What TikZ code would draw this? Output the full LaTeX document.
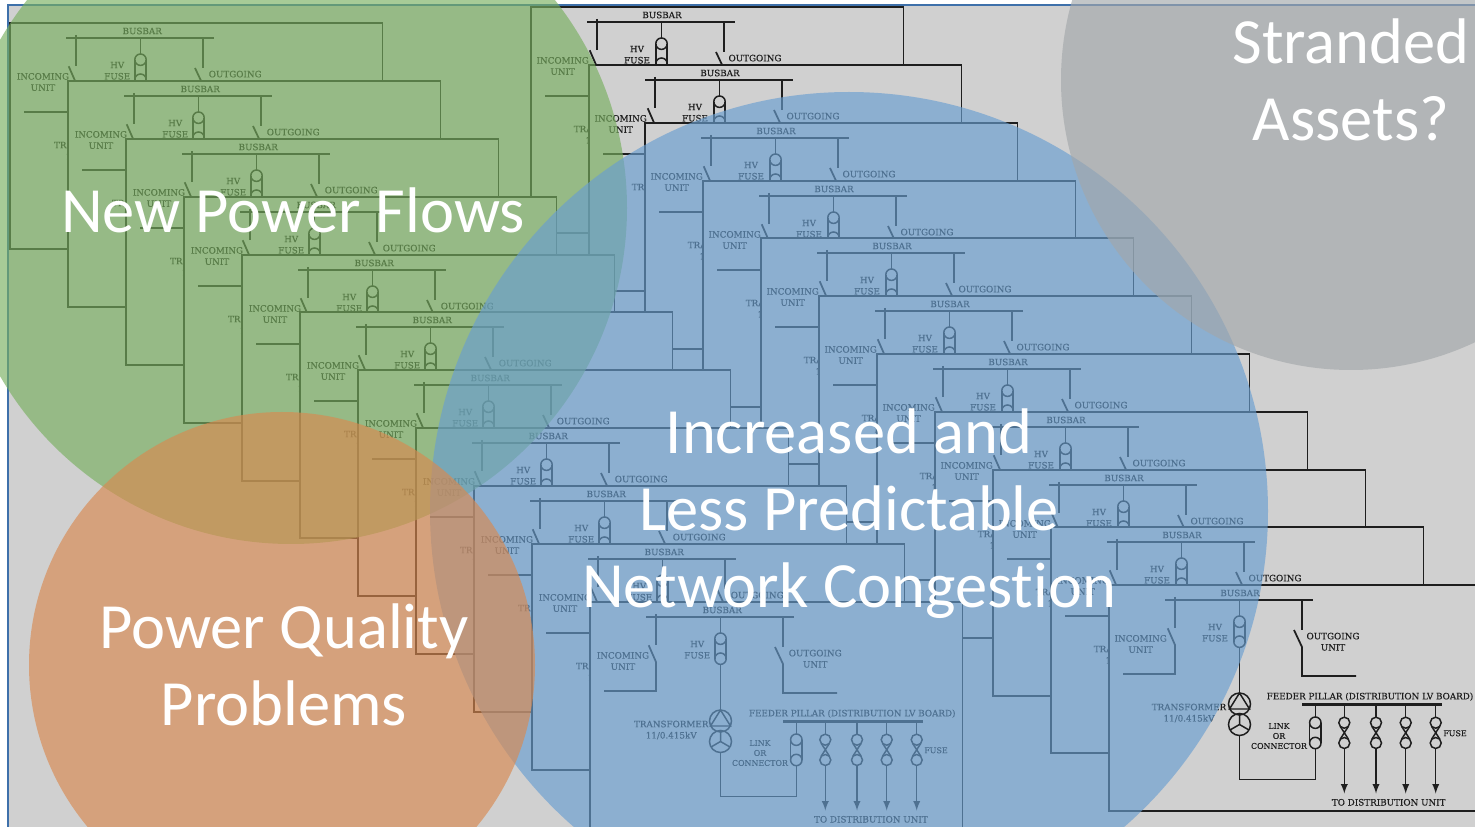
\documentclass[tikz,border=0pt]{standalone}
\usepackage{fontspec}
\setmainfont{Carlito}[Ligatures=CommonOff]
\newfontfamily\lblfont{DejaVu Serif}[FakeBold=0.35]
\definecolor{sheetgrey}{RGB}{208,208,208}
\definecolor{framecol}{RGB}{62,112,170}
\definecolor{inkcol}{RGB}{30,30,30}
\definecolor{greenblob}{RGB}{120,175,95}
\definecolor{blueblob}{RGB}{105,158,208}
\definecolor{orangeblob}{RGB}{217,137,80}
\definecolor{greyblob}{RGB}{162,167,170}
\tikzset{
    ink/.style={draw=inkcol, line width=1pt},
    thinink/.style={draw=inkcol, line width=.85pt},
    bar/.style={draw=inkcol, line width=1.6pt},
    sheetbox/.style={draw=inkcol, line width=1pt, fill=sheetgrey},
    lbl/.style={inner sep=0pt, text=inkcol, align=center, font=\lblfont\fontsize{5}{6.4}\selectfont},
    lblsmall/.style={inner sep=0pt, text=inkcol, align=center, font=\lblfont\fontsize{4.5}{5.7}\selectfont},
    blob/.style={draw=none, fill opacity=.65},
    bigtext/.style={inner sep=0pt, text=white, align=center, font=\fontsize{36.7}{43.8}\selectfont},
}
\newcommand{\fuseonly}[1]{
    \draw[thinink] (#1,119.5) -- (#1,132);
    \draw[thinink] (#1,137.7) circle (5.5);
    \draw[thinink] (#1,158) circle (5.5);
    \draw[thinink] (#1-4,141.5) -- (#1+4,154) (#1+4,141.5) -- (#1-4,154);
    \draw[thinink, -latex] (#1,163.5) -- (#1,208.5);
}
\newcommand{\sheet}[3]{
    \begin{scope}[shift={(#2,#3)}]
    \draw[sheetbox] (0,0) rectangle (372.5,226);
    \draw[bar] (56,15) -- (204,15);
    \draw[ink] (66,12) -- (66,43);
    \draw[ink] (58.7,43.3) -- (66,60) -- (66,89) -- (14,89);
    \draw[ink] (193,15) -- (193,45);
    \draw[ink] (185,45) -- (193,62) -- (193,91) -- (247,91);
    \draw[thinink] (130.5,15) -- (130.5,31);
    \draw[thinink] (130.5,36.7) circle (5.7);
    \draw[thinink] (130.5,56.7) circle (5.7);
    \draw[thinink] (124.8,36.7) -- (124.8,56.7) (136.2,36.7) -- (136.2,56.7);
    \draw[thinink] (130.5,62.4) -- (130.5,108);
    \draw[thinink] (130.5,119) circle (11);
    \draw[thinink] (130.5,139.5) circle (11);
    \draw[thinink] (130.5,108) -- (120.5,124) -- (140.5,124) -- cycle;
    \draw[thinink] (130.5,128.5) -- (130.5,139.5) -- (121,145) (130.5,139.5) -- (140,145);
    \draw[thinink] (130.5,150.5) -- (130.5,194.5) -- (206.3,194.5) -- (206.3,163.7);
    \draw[bar] (193,119.5) -- (333,119.5);
    \draw[thinink] (206.3,119.5) -- (206.3,132);
    \draw[thinink] (206.3,137.7) circle (5.7);
    \draw[thinink] (206.3,158) circle (5.7);
    \draw[thinink] (200.6,137.7) -- (200.6,158) (212,137.7) -- (212,158);
    \fuseonly{235.3}
    \fuseonly{267}
    \fuseonly{296.7}
    \fuseonly{326.7}
    \node[lbl] (#1-busbar) at (131,8) {BUSBAR};
    \node[lbl] (#1-incoming) at (31.7,59) {INCOMING\\UNIT};
    \node[lbl] (#1-hvfuse) at (106,47.7) {HV\\FUSE};
    \node[lbl] (#1-outgoing) at (224,56.7) {OUTGOING\\UNIT};
    \node[lbl] (#1-transformer) at (80,128) {TRANSFORMER\\11/0.415kV};
    \node[lbl] (#1-feeder) at (261,111.7) {FEEDER PILLAR (DISTRIBUTION LV BOARD)};
    \node[lblsmall] (#1-link) at (170,151) {LINK\\OR\\CONNECTOR};
    \node[lblsmall] (#1-fuse) at (346,148.3) {FUSE};
    \node[lbl] (#1-todist) at (279.7,217.3) {TO DISTRIBUTION UNIT};
    \end{scope}
}
\begin{document}
\begin{tikzpicture}[x=.02cm, y=-.02cm]

    \useasboundingbox (0,0) rectangle (1475,827);
    \clip (0,0) rectangle (1475,827);

    \draw[framecol, line width=1.2pt, fill=sheetgrey] (8,5) rectangle (1500,850);

    \foreach \n/\x/\y in {r1/531/7, r2/589/65, r3/645/123, r4/703/181, r5/761/238, r6/819/296, r7/877/354, r8/935/412, r9/993/470, r10/1051/527, r11/1109/585}{
        \sheet{\n}{\x}{\y}
    }
    \begin{scope}[lbl/.append style={xshift=.7pt}]
    \foreach \n/\x/\y in {l1/10/23, l2/68/81, l3/126/139, l4/184/197, l5/242/255, l6/300/312, l7/358/370, l8/416/428, l9/474/486, l10/532/544, l11/590/602}{
        \sheet{\n}{\x}{\y}
    }
    \end{scope}

    \fill[blob, greenblob] (291,208) circle (336);
    \fill[blob, blueblob] (849,511) circle (419);
    \fill[blob, orangeblob] (282,665) circle (253);
    \fill[blob, greyblob] (1351,80) circle (290);

    \node[bigtext] (flows) at (293,210) {New Power Flows};
    \node[bigtext] (stranded) at (1351,80) {Stranded\\Assets?};
    \node[bigtext] (quality) at (284,665) {Power Quality\\Problems};
    \node[bigtext] (congestion) at (849,513.5) {Increased and\\Less Predictable\\Network Congestion};

\end{tikzpicture}
\end{document}
